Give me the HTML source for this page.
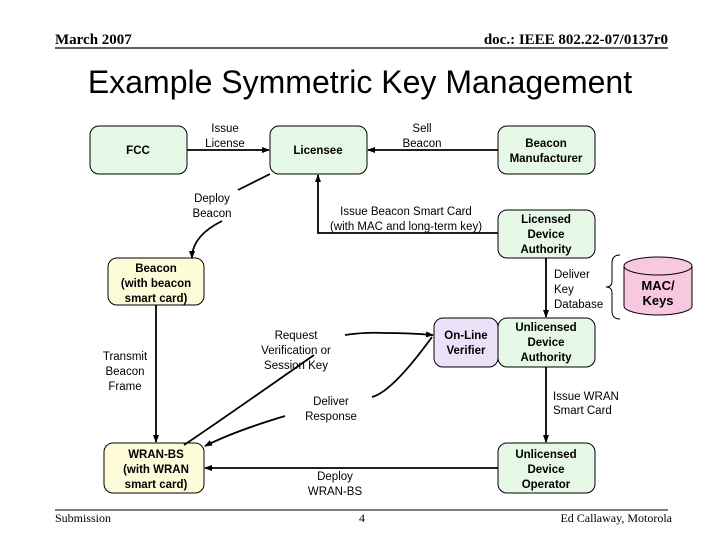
<!DOCTYPE html>
<html><head><style>
body{margin:0;background:#fff;}
svg text{font-family:"Liberation Sans",Arial,sans-serif;}
</style></head><body>
<svg width="720" height="540" viewBox="0 0 720 540" xmlns="http://www.w3.org/2000/svg">
<defs><marker id="a" markerWidth="8" markerHeight="8" refX="7" refY="4" orient="auto" markerUnits="userSpaceOnUse"><path d="M0,1 L8,4 L0,7 z" fill="#000"/></marker></defs>
<rect width="720" height="540" fill="#fff"/>
<text x="55" y="44" font-weight="bold" font-size="15" style="font-family:'Liberation Serif',serif">March 2007</text>
<text x="668" y="44" text-anchor="end" font-weight="bold" font-size="15" style="font-family:'Liberation Serif',serif">doc.: IEEE 802.22-07/0137r0</text>
<line x1="55" y1="48" x2="668" y2="48" stroke="#000" stroke-width="1.2"/>
<text x="360" y="93" text-anchor="middle" font-size="32">Example Symmetric Key Management</text>
<line x1="55" y1="510" x2="668" y2="510" stroke="#000" stroke-width="1"/>
<text x="55" y="522" font-size="12" style="font-family:'Liberation Serif',serif">Submission</text>
<text x="362" y="522" text-anchor="middle" font-size="12" style="font-family:'Liberation Serif',serif">4</text>
<text x="672" y="522" text-anchor="end" font-size="12" style="font-family:'Liberation Serif',serif">Ed Callaway, Motorola</text>

<g stroke="#000" stroke-width="1">
<rect x="90" y="126" width="97" height="48" rx="9" fill="#e6f8e6"/>
<rect x="270" y="126" width="97" height="48" rx="9" fill="#e6f8e6"/>
<rect x="498" y="126" width="97" height="48" rx="9" fill="#e6f8e6"/>
<rect x="498" y="210" width="97" height="48" rx="9" fill="#e6f8e6"/>
<rect x="108" y="258" width="96" height="47" rx="9" fill="#fdfbd8"/>
<rect x="434" y="318" width="64" height="49" rx="9" fill="#ebe2fa"/>
<rect x="498" y="318" width="97" height="49" rx="9" fill="#e6f8e6"/>
<rect x="104" y="443" width="100" height="50" rx="9" fill="#fdfbd8"/>
<rect x="498" y="443" width="97" height="50" rx="9" fill="#e6f8e6"/>
<path d="M624,266 v40 a34,9 0 0 0 68,0 v-40" fill="#f7c8e0"/>
<ellipse cx="658" cy="266" rx="34" ry="9" fill="#f7c8e0"/>
</g>
<g fill="none" stroke="#000" stroke-width="1">
<path d="M620,255 q-8,0 -8,8 v18 q0,6 -6,6 q6,0 6,6 v18 q0,8 8,8"/>
</g>
<g fill="none" stroke="#000" stroke-width="1.8">
<path d="M270,174 q-20,10 -32,16"/>
<path d="M345,335 q20,-3 40,-2"/>
<path d="M314,355 q-100,70 -130,90"/>
<path d="M432,337 q-40,55 -60,60"/>
</g>
<g fill="none" stroke="#000" stroke-width="1.8" marker-end="url(#a)">
<line x1="187" y1="150" x2="269" y2="150"/>
<line x1="498" y1="150" x2="368" y2="150"/>
<polyline points="498,233 318,233 318,175"/>
<path d="M222,221 q-30,15 -30,37"/>
<line x1="156" y1="305" x2="156" y2="442"/>
<line x1="546" y1="258" x2="546" y2="317"/>
<line x1="546" y1="367" x2="546" y2="442"/>
<line x1="498" y1="468" x2="205" y2="468"/>
<path d="M385,333 q25,0 48,2"/>
<path d="M285,416 q-50,15 -80,30"/>
</g>
<g font-size="11.5" text-anchor="middle">
<text x="225" y="132">Issue</text><text x="225" y="147">License</text>
<text x="422" y="132">Sell</text><text x="422" y="147">Beacon</text>
<text x="212" y="202">Deploy</text><text x="212" y="217">Beacon</text>
<text x="406" y="215">Issue Beacon Smart Card</text><text x="406" y="230">(with MAC and long-term key)</text>
<text x="554" y="278" text-anchor="start">Deliver</text><text x="554" y="293" text-anchor="start">Key</text><text x="554" y="308" text-anchor="start">Database</text>
<text x="125" y="360">Transmit</text><text x="125" y="375">Beacon</text><text x="125" y="390">Frame</text>
<text x="296" y="339">Request</text><text x="296" y="354">Verification or</text><text x="296" y="369">Session Key</text>
<text x="331" y="405">Deliver</text><text x="331" y="420">Response</text>
<text x="553" y="400" text-anchor="start">Issue WRAN</text><text x="553" y="414" text-anchor="start">Smart Card</text>
<text x="335" y="480">Deploy</text><text x="335" y="495">WRAN-BS</text>
</g>
<g font-size="11.5" font-weight="bold" text-anchor="middle">
<text x="138" y="154">FCC</text>
<text x="318" y="154">Licensee</text>
<text x="546" y="147">Beacon</text><text x="546" y="162">Manufacturer</text>
<text x="546" y="223">Licensed</text><text x="546" y="238">Device</text><text x="546" y="253">Authority</text>
<text x="156" y="272">Beacon</text><text x="156" y="287">(with beacon</text><text x="156" y="302">smart card)</text>
<text x="466" y="339">On-Line</text><text x="466" y="354">Verifier</text>
<text x="546" y="331">Unlicensed</text><text x="546" y="346">Device</text><text x="546" y="361">Authority</text>
<text x="156" y="458">WRAN-BS</text><text x="156" y="473">(with WRAN</text><text x="156" y="488">smart card)</text>
<text x="546" y="458">Unlicensed</text><text x="546" y="473">Device</text><text x="546" y="488">Operator</text>
<text x="658" y="290" font-size="13">MAC/</text><text x="658" y="305" font-size="13">Keys</text>
</g>
</svg>
</body></html>
